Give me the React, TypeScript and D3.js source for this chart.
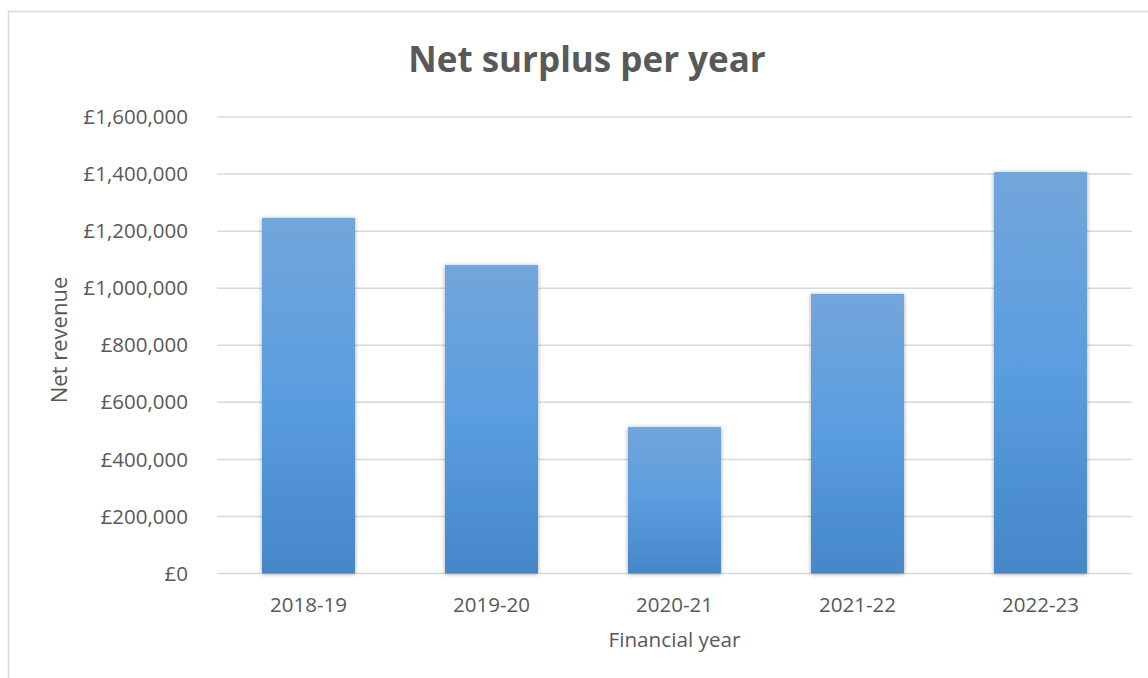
import React from "react";
import * as d3 from "d3";

const categories = ["2018-19", "2019-20", "2020-21", "2021-22", "2022-23"];
const netRevenue = [1246000, 1081000, 513000, 980000, 1407000];
const yTicks = [0, 200000, 400000, 600000, 800000, 1000000, 1200000, 1400000, 1600000];

const W = 1148;
const H = 678;
const textColor = "#595959";
const gridColor = "#d9d9d9";
const font = "'Open Sans', 'Noto Sans', sans-serif";

export default function App() {
  const x = d3.scaleBand<string>().domain(categories).range([217, 1132]).paddingInner(0.492).paddingOuter(0.246);
  const y = d3.scaleLinear().domain([0, 1600000]).range([573.5, 117]);
  const fmt = (v: number) => "£" + d3.format(",")(v);

  return (
    <svg width={W} height={H} style={{ position: "absolute", left: 0, top: 0 }} fontFamily={font}>
      <defs>
        <linearGradient id="barGrad" x1="0" y1="0" x2="0" y2="1">
          <stop offset="0%" stopColor="#72a6db" />
          <stop offset="50%" stopColor="#5a9ddf" />
          <stop offset="100%" stopColor="#4587c8" />
        </linearGradient>
        <filter id="shadow" x="-20%" y="-20%" width="140%" height="140%">
          <feDropShadow dx="0" dy="0.5" stdDeviation="2.2" floodColor="#000" floodOpacity="0.35" />
        </filter>
      </defs>
      <rect x={0} y={0} width={W} height={H} fill="#fff" />
      <rect x={8.5} y={11.5} width={W + 20} height={H + 20} fill="none" stroke={gridColor} strokeWidth={1.5} />
      <text x={587} y={72} textAnchor="middle" fontSize={35} fontWeight="bold" fill={textColor}>
        Net surplus per year
      </text>
      {yTicks.map((t) => (
        <g key={t}>
          <line x1={217} x2={1132} y1={y(t)} y2={y(t)} stroke={gridColor} strokeWidth={1.5} />
          <text x={188} y={y(t)} dy="0.35em" textAnchor="end" fontSize={20.5} fill={textColor}>
            {fmt(t)}
          </text>
        </g>
      ))}
      {categories.map((c, i) => (
        <rect
          key={c}
          x={x(c)}
          y={y(netRevenue[i])}
          width={x.bandwidth()}
          height={y(0) - y(netRevenue[i])}
          fill="url(#barGrad)"
          filter="url(#shadow)"
        />
      ))}
      {categories.map((c) => (
        <text key={c} x={(x(c) as number) + x.bandwidth() / 2} y={612} textAnchor="middle" fontSize={20.5} fill={textColor}>
          {c}
        </text>
      ))}
      <text x={674.5} y={647} textAnchor="middle" fontSize={20.7} fill={textColor}>
        Financial year
      </text>
      <text transform={`translate(67,340) rotate(-90)`} textAnchor="middle" fontSize={22} fill={textColor}>
        Net revenue
      </text>
    </svg>
  );
}
